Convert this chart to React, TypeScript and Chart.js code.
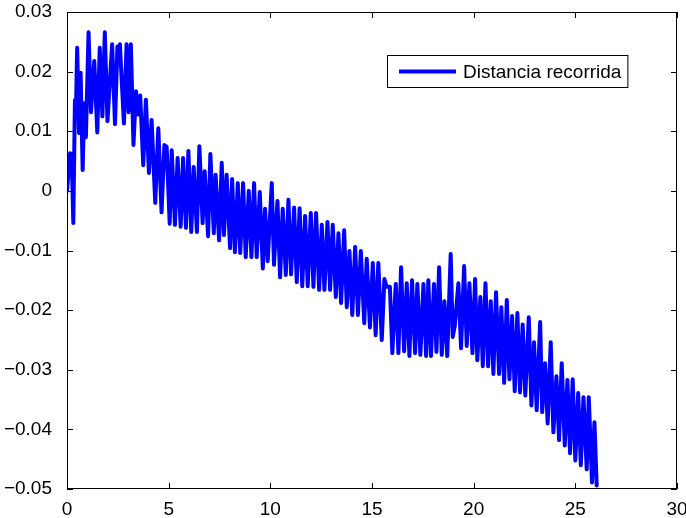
import React, { useEffect, useRef } from "react";
import { Chart, registerables } from "chart.js";

Chart.register(...registerables);

// Tiempo (eje x) y distancia recorrida (eje y)
const tiempo = [
  0.0, 0.15, 0.23, 0.31, 0.39, 0.44, 0.5, 0.59, 0.67, 0.77, 0.85, 0.93, 1.06, 1.18, 1.34, 1.49,
  1.61, 1.74, 1.86, 1.99, 2.22, 2.36, 2.48, 2.54, 2.6, 2.8, 2.93, 3.03, 3.14, 3.27, 3.39, 3.5,
  3.6, 3.75, 3.88, 4.03, 4.16, 4.34, 4.49, 4.65, 4.79, 4.9, 5.05, 5.15, 5.31, 5.44, 5.59, 5.71,
  5.85, 5.97, 6.11, 6.23, 6.39, 6.51, 6.67, 6.77, 6.94, 7.05, 7.22, 7.31, 7.48, 7.61, 7.72, 7.85,
  8.02, 8.12, 8.26, 8.4, 8.52, 8.66, 8.79, 8.94, 9.07, 9.2, 9.33, 9.48, 9.63, 9.74, 9.87, 10.07,
  10.18, 10.35, 10.48, 10.61, 10.76, 10.89, 11.02, 11.17, 11.3, 11.44, 11.57, 11.71, 11.84, 11.99,
  12.12, 12.25, 12.4, 12.53, 12.66, 12.81, 12.94, 13.07, 13.22, 13.35, 13.48, 13.63, 13.76, 13.89,
  14.03, 14.17, 14.31, 14.45, 14.62, 14.74, 14.9, 15.04, 15.18, 15.31, 15.48, 15.61, 15.72, 15.88,
  16.0, 16.17, 16.3, 16.43, 16.58, 16.71, 16.84, 16.97, 17.12, 17.23, 17.38, 17.53, 17.66, 17.77,
  17.9, 18.05, 18.17, 18.3, 18.43, 18.56, 18.7, 18.87, 18.97, 19.07, 19.25, 19.38, 19.53, 19.66,
  19.79, 19.94, 20.07, 20.18, 20.33, 20.45, 20.58, 20.71, 20.84, 20.97, 21.1, 21.25, 21.36, 21.5,
  21.63, 21.76, 21.89, 22.02, 22.15, 22.28, 22.41, 22.54, 22.71, 22.84, 22.97, 23.1, 23.27, 23.37,
  23.51, 23.64, 23.79, 23.92, 24.07, 24.2, 24.33, 24.48, 24.61, 24.74, 24.87, 25.0, 25.14, 25.27,
  25.4, 25.56, 25.66, 25.82, 25.94, 26.05,
];

const distancia = [
  0.0, 0.0063, 0.0062, -0.0054, 0.0152, 0.0135, 0.024, 0.0097, 0.0198, 0.0035, 0.0147, 0.009,
  0.0266, 0.0132, 0.0218, 0.0098, 0.024, 0.0125, 0.0266, 0.0117, 0.0246, 0.0112, 0.0242, 0.0225,
  0.0246, 0.0113, 0.0246, 0.0132, 0.0246, 0.0077, 0.0167, 0.0128, 0.016, 0.0043, 0.0153, 0.003,
  0.0119, -0.002, 0.0105, -0.0036, 0.0077, 0.0074, -0.0055, 0.0068, -0.0057, 0.0055, -0.006, 0.0055,
  -0.0062, 0.0067, -0.0069, 0.004, -0.0069, 0.0075, -0.0054, 0.0033, -0.0076, 0.0062, -0.0071, 0.0027,
  -0.0083, 0.0047, -0.0074, 0.0027, -0.0096, 0.002, -0.0103, 0.0013, -0.0104, 0.0013, -0.0111, 0.0,
  -0.0111, 0.0013, -0.0111, -0.0002, -0.013, -0.003, -0.0118, 0.0013,
  -0.0124, -0.0017, -0.0145, -0.003, -0.0141, -0.0015, -0.014, -0.0028, -0.0153, -0.0029, -0.016,
  -0.0042, -0.016, -0.0037, -0.0161, -0.0037, -0.0166, -0.0057, -0.0166, -0.0052, -0.0166, -0.0057,
  -0.0178, -0.0071, -0.0188, -0.0066, -0.0195, -0.0101, -0.0208, -0.0094, -0.0208, -0.0101, -0.0222,
  -0.0114, -0.0229, -0.0121, -0.0242, -0.0121, -0.025, -0.0148, -0.0161, -0.0161,
  -0.0272, -0.0156, -0.0272, -0.0128, -0.0269, -0.0155, -0.0277, -0.015, -0.0272, -0.0156, -0.0275,
  -0.0156, -0.0277, -0.015, -0.0277, -0.0156, -0.027, -0.0128, -0.0275, -0.0185, -0.0277, -0.0106,
  -0.0245, -0.0227, -0.0155, -0.0264, -0.0126, -0.026, -0.0155, -0.0272, -0.0148, -0.0284, -0.0178,
  -0.0294, -0.0155, -0.0294, -0.0185, -0.0307, -0.017, -0.0307, -0.0195, -0.0322, -0.0183, -0.0316,
  -0.021, -0.0336, -0.0205, -0.0338, -0.0224, -0.0343, -0.0212, -0.036, -0.0254, -0.0368, -0.022,
  -0.0371, -0.0289, -0.039, -0.0254, -0.0405, -0.0311, -0.0418, -0.0289, -0.0427, -0.0317, -0.044,
  -0.0316, -0.0452, -0.0339, -0.046, -0.0346, -0.0467, -0.0346, -0.0489, -0.0388, -0.0494,
];

const serieNombre = "Distancia recorrida";
const xTicks = [0, 5, 10, 15, 20, 25, 30];
const yTicks = [-0.05, -0.04, -0.03, -0.02, -0.01, 0, 0.01, 0.02, 0.03];

const FONT = '"Liberation Sans", Arial, Helvetica, sans-serif';
const FONT_SIZE = 19;
const AZUL = "#0000ff";

// Caja de ejes con marcas hacia dentro en los cuatro lados
const marcoPlugin = {
  id: "marco",
  afterDatasetsDraw(chart: any) {
    const { ctx, chartArea: a, scales } = chart;
    const t = 6;
    ctx.save();
    ctx.strokeStyle = "#000";
    ctx.lineWidth = 1;
    ctx.beginPath();
    ctx.rect(a.left + 0.5, a.top + 0.5, a.right - a.left - 1, a.bottom - a.top - 1);
    for (const v of xTicks) {
      const px = Math.round(scales.x.getPixelForValue(v)) + 0.5;
      ctx.moveTo(px, a.bottom);
      ctx.lineTo(px, a.bottom - t);
      ctx.moveTo(px, a.top);
      ctx.lineTo(px, a.top + t);
    }
    for (const v of yTicks) {
      const py = Math.round(scales.y.getPixelForValue(v)) + 0.5;
      ctx.moveTo(a.left, py);
      ctx.lineTo(a.left + t, py);
      ctx.moveTo(a.right, py);
      ctx.lineTo(a.right - t, py);
    }
    ctx.stroke();
    ctx.restore();
  },
};

// Leyenda enmarcada en la esquina superior derecha del área de trazado
const leyendaPlugin = {
  id: "leyendaMarco",
  afterDraw(chart: any) {
    const { ctx, chartArea: a } = chart;
    const ds = chart.data.datasets[0];
    ctx.save();
    ctx.font = `${FONT_SIZE}px ${FONT}`;
    const tw = ctx.measureText(ds.label).width;
    const padL = 12;
    const lineLen = 57;
    const gap = 7;
    const padR = 7;
    const w = padL + lineLen + gap + tw + padR;
    const h = 33;
    const right = a.right - 49;
    const left = Math.round(right - w);
    const top = a.top + 43;
    ctx.fillStyle = "#fff";
    ctx.fillRect(left, top, w, h);
    ctx.strokeStyle = "#000";
    ctx.lineWidth = 1;
    ctx.strokeRect(left + 0.5, top + 0.5, w - 1, h - 1);
    const cy = top + h / 2;
    ctx.strokeStyle = ds.borderColor;
    ctx.lineWidth = 4;
    ctx.beginPath();
    ctx.moveTo(left + padL, cy);
    ctx.lineTo(left + padL + lineLen, cy);
    ctx.stroke();
    ctx.fillStyle = "#000";
    ctx.textBaseline = "middle";
    ctx.textAlign = "left";
    ctx.fillText(ds.label, left + padL + lineLen + gap, cy + 1);
    ctx.restore();
  },
};

function fmtY(v: number) {
  if (Math.abs(v) < 1e-9) return "0";
  return (v < 0 ? "\u2212" : "") + Math.abs(v).toFixed(2);
}

export default function App() {
  const ref = useRef<HTMLCanvasElement | null>(null);

  useEffect(() => {
    if (!ref.current) return;
    const puntos = tiempo.map((x, i) => ({ x, y: distancia[i] }));
    const chart = new Chart(ref.current, {
      type: "line",
      data: {
        datasets: [
          {
            label: serieNombre,
            data: puntos,
            borderColor: AZUL,
            backgroundColor: AZUL,
            borderWidth: 4,
            borderJoinStyle: "round",
            borderCapStyle: "round",
            pointRadius: 0,
            tension: 0,
            fill: false,
          },
        ],
      },
      options: {
        animation: false,
        responsive: false,
        devicePixelRatio: 1,
        layout: { padding: { top: 12, right: 9, left: 0, bottom: 0 } },
        plugins: { legend: { display: false }, tooltip: { enabled: false } },
        scales: {
          x: {
            type: "linear",
            min: 0,
            max: 30,
            afterBuildTicks: (s: any) => {
              s.ticks = xTicks.map((value) => ({ value }));
            },
            afterFit: (s: any) => {
              s.height = 29;
              s.paddingLeft = 0;
              s.paddingRight = 0;
            },
            grid: { display: false },
            border: { display: false },
            ticks: {
              color: "#000",
              padding: 1,
              maxRotation: 0,
              font: { family: FONT, size: FONT_SIZE },
              callback: (v: any) => String(v),
            },
          },
          y: {
            type: "linear",
            min: -0.05,
            max: 0.03,
            afterBuildTicks: (s: any) => {
              s.ticks = yTicks.map((value) => ({ value }));
            },
            afterFit: (s: any) => {
              s.width = 67;
              s.paddingTop = 0;
              s.paddingBottom = 0;
            },
            grid: { display: false },
            border: { display: false },
            ticks: {
              color: "#000",
              padding: 7,
              font: { family: FONT, size: FONT_SIZE },
              callback: (v: any) => fmtY(Number(v)),
            },
          },
        },
      },
      plugins: [marcoPlugin, leyendaPlugin],
    });
    return () => chart.destroy();
  }, []);

  return (
    <div style={{ position: "absolute", left: 0, top: 0, width: 686, height: 518, background: "#fff" }}>
      <canvas ref={ref} width={686} height={518} style={{ display: "block" }} />
    </div>
  );
}
